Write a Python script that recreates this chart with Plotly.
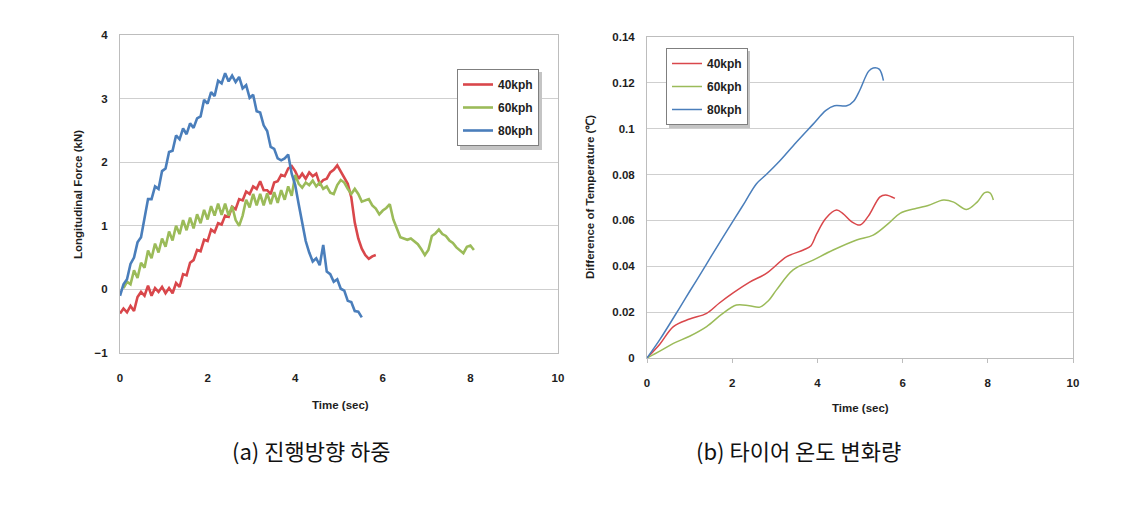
import plotly.graph_objects as go

# ---------------- (a) Longitudinal force ----------------
T_A = [0.00, 0.08, 0.16, 0.24, 0.32, 0.40, 0.48, 0.56, 0.64, 0.72,
       0.80, 0.88, 0.96, 1.04, 1.12, 1.20, 1.28, 1.36, 1.44, 1.52,
       1.60, 1.68, 1.76, 1.84, 1.92, 2.00, 2.08, 2.16, 2.24, 2.32,
       2.40, 2.48, 2.56, 2.64, 2.72, 2.80, 2.88, 2.96, 3.04, 3.12,
       3.20, 3.28, 3.36, 3.44, 3.52, 3.60, 3.68, 3.76, 3.84, 3.92,
       4.00, 4.08, 4.16, 4.24, 4.32, 4.40, 4.48, 4.56, 4.64, 4.72,
       4.80, 4.88, 4.96, 5.04, 5.12, 5.20, 5.28, 5.36, 5.44, 5.52,
       5.60, 5.68, 5.76, 5.84, 5.92, 6.00, 6.08, 6.16, 6.24, 6.32,
       6.40, 6.48, 6.56, 6.64, 6.72, 6.80, 6.88, 6.96, 7.04, 7.12,
       7.20, 7.28, 7.36, 7.44, 7.52, 7.60, 7.68, 7.76, 7.84, 7.92,
       8.00, 8.08]

force_40 = [-0.38, -0.30, -0.36, -0.26, -0.34, -0.12, -0.04, -0.10, 0.06, -0.10,
            0.02, -0.04, 0.04, -0.06, 0.02, -0.06, 0.10, 0.04, 0.24, 0.22,
            0.42, 0.46, 0.62, 0.60, 0.78, 0.76, 0.94, 0.90, 1.04, 1.02,
            1.16, 1.14, 1.30, 1.26, 1.42, 1.40, 1.54, 1.50, 1.62, 1.58,
            1.70, 1.56, 1.56, 1.50, 1.68, 1.70, 1.80, 1.78, 1.90, 1.94,
            1.86, 1.74, 1.82, 1.74, 1.84, 1.78, 1.82, 1.66, 1.72, 1.74,
            1.84, 1.88, 1.95, 1.86, 1.76, 1.66, 1.45, 1.05, 0.80, 0.64,
            0.54, 0.48, 0.52, 0.54]

force_60 = [0.02, 0.12, 0.08, 0.30, 0.18, 0.42, 0.34, 0.61, 0.49,
            0.72, 0.58, 0.80, 0.67, 0.91, 0.77, 1.00, 0.87, 1.09, 0.93,
            1.13, 0.96, 1.18, 1.04, 1.25, 1.10, 1.31, 1.16, 1.35, 1.17,
            1.35, 1.16, 1.31, 1.09, 1.00, 1.16, 1.41, 1.29, 1.50, 1.32,
            1.50, 1.32, 1.51, 1.34, 1.53, 1.36, 1.56, 1.41, 1.62, 1.47,
            1.80, 1.66, 1.60, 1.68, 1.64, 1.71, 1.62, 1.68, 1.58, 1.62,
            1.52, 1.50, 1.64, 1.72, 1.68, 1.58, 1.50, 1.58, 1.50, 1.38,
            1.40, 1.42, 1.32, 1.27, 1.18, 1.24, 1.28, 1.34, 1.10, 0.96,
            0.82, 0.80, 0.78, 0.80, 0.75, 0.71, 0.63, 0.54, 0.62, 0.84,
            0.88, 0.94, 0.87, 0.84, 0.77, 0.73, 0.66, 0.61, 0.57, 0.67,
            0.69, 0.62]

force_80 = [-0.10, 0.08, 0.16, 0.40, 0.50, 0.74, 0.82, 1.14, 1.42, 1.42,
            1.62, 1.58, 1.86, 1.90, 2.16, 2.18, 2.42, 2.36, 2.53, 2.44,
            2.61, 2.54, 2.69, 2.72, 2.98, 2.92, 3.10, 3.04, 3.28, 3.24,
            3.40, 3.27, 3.36, 3.26, 3.34, 3.16, 3.21, 3.01, 3.06, 2.80,
            2.78, 2.58, 2.49, 2.24, 2.21, 2.06, 2.03, 2.06, 2.12, 1.82,
            1.64, 1.34, 1.06, 0.76, 0.58, 0.44, 0.49, 0.38, 0.70, 0.28,
            0.24, 0.12, 0.16, 0.01, -0.02, -0.18, -0.20, -0.34, -0.35, -0.44]

# ---------------- (b) Temperature difference ----------------
t_40 = [0, 0.3, 0.62, 1.0, 1.40, 1.7, 2.03, 2.4, 2.81, 3.28, 3.67, 3.85,
        3.98, 4.2, 4.45, 4.6, 4.8, 5.0, 5.2, 5.47, 5.6, 5.82]
temp_40 = [0, 0.006, 0.0137, 0.017, 0.0195, 0.024, 0.0285, 0.033, 0.037,
           0.0442, 0.0471, 0.049, 0.054, 0.061, 0.0645, 0.063, 0.0595,
           0.058, 0.062, 0.0703, 0.0711, 0.0696]

t_60 = [0, 0.3, 0.62, 1.0, 1.40, 1.75, 2.1, 2.4, 2.65, 2.85, 3.04, 3.43,
        3.90, 4.37, 4.92, 5.31, 5.67, 5.94, 6.33, 6.6, 6.96, 7.2, 7.5,
        7.75, 7.93, 8.05, 8.13]
temp_60 = [0, 0.003, 0.0064, 0.0095, 0.0137, 0.019, 0.0231, 0.0228, 0.0222,
           0.025, 0.0297, 0.0384, 0.0427, 0.0471, 0.0515, 0.0536, 0.0587,
           0.0631, 0.0653, 0.0665, 0.0689, 0.068, 0.0648, 0.068, 0.0721,
           0.072, 0.0689]

t_80 = [0, 0.3, 0.77, 1.0, 1.3, 1.56, 2.03, 2.3, 2.57, 2.8, 3.12, 3.5, 3.90,
        4.2, 4.4, 4.69, 4.85, 5.0, 5.2, 5.31, 5.45, 5.55]
temp_80 = [0, 0.008, 0.022, 0.029, 0.038, 0.046, 0.060, 0.068, 0.076, 0.080,
           0.086, 0.094, 0.102, 0.108, 0.110, 0.110, 0.112, 0.117, 0.125,
           0.1265, 0.126, 0.121]

series_names = ["40kph", "60kph", "80kph"]
colors = ["#D9474B", "#9BBB59", "#4A7EBB"]
x_ticks = [0, 2, 4, 6, 8, 10]
force_ticks = [-1, 0, 1, 2, 3, 4]
temp_ticks = [0, 0.02, 0.04, 0.06, 0.08, 0.1, 0.12, 0.14]
temp_tick_text = ["0", "0.02", "0.04", "0.06", "0.08", "0.1", "0.12", "0.14"]
captions = ["(a) 진행방향 하중", "(b) 타이어 온도 변화량"]
x_title = "Time (sec)"
force_title = "Longitudinal Force (kN)"
temp_title = "Difference of Temperature (℃)"

W, H = 1145, 505
fig = go.Figure()

force_data = [(T_A[:len(force_40)], force_40),
              (T_A[1:1 + len(force_60)], force_60),
              (T_A[:len(force_80)], force_80)]
for (xs, ys), name, c in zip(force_data, series_names, colors):
    fig.add_trace(go.Scatter(x=xs, y=ys, mode="lines", name=name,
                             line=dict(color=c, width=2.6),
                             xaxis="x", yaxis="y", legend="legend",
                             legendgroup="a" + name))

temp_data = [(t_40, temp_40), (t_60, temp_60), (t_80, temp_80)]
for (xs, ys), name, c in zip(temp_data, series_names, colors):
    fig.add_trace(go.Scatter(x=xs, y=ys, mode="lines", name=name,
                             line=dict(color=c, width=1.5, shape="spline"),
                             xaxis="x2", yaxis="y2", legend="legend2",
                             legendgroup="b" + name))

def px_x(p):
    return p / W

def px_y(p):
    return 1 - p / H

tick_font = dict(family="Liberation Sans", size=11.5, color="#1E1E1E", weight="bold")
title_font = dict(family="Liberation Sans", size=11.5, color="#1E1E1E", weight="bold")
legend_font = dict(family="Liberation Sans", size=12, color="#1E1E1E", weight="bold")
grid = "#CFCFCF"
border = "#BDBDBD"

axis_common = dict(showgrid=False, zeroline=False, showline=True, mirror=True,
                   linecolor=border, linewidth=1, tickfont=tick_font, ticks="",
                   automargin=False)

fig.update_layout(
    template="none",
    width=W, height=H, margin=dict(l=0, r=0, t=0, b=0),
    paper_bgcolor="white", plot_bgcolor="white",
    xaxis=dict(domain=[px_x(120), px_x(558)], range=[0, 10], tickvals=x_ticks,
               anchor="y", ticklabelstandoff=14, **axis_common),
    yaxis=dict(domain=[px_y(353), px_y(35)], range=[-1, 4], tickvals=force_ticks,
               anchor="x", ticklabelstandoff=9,
               **{**axis_common, "showgrid": True, "gridcolor": grid}),
    xaxis3=dict(overlaying="x", anchor="free", position=px_y(289.5), range=[0, 10],
                tickvals=x_ticks, showticklabels=False, ticks="outside", ticklen=4,
                tickcolor="#A6A6A6", showline=True, linecolor="#A6A6A6", showgrid=False,
                zeroline=False, automargin=False),
    xaxis2=dict(domain=[px_x(647), px_x(1073)], range=[0, 10], tickvals=x_ticks,
                anchor="y2", ticklabelstandoff=10,
                **{**axis_common, "ticks": "outside", "ticklen": 4, "tickcolor": border}),
    yaxis2=dict(domain=[px_y(358), px_y(37)], range=[0, 0.14], tickvals=temp_ticks,
                ticktext=temp_tick_text, anchor="x2", ticklabelstandoff=9,
                **{**axis_common, "showgrid": True, "gridcolor": grid}),
    legend=dict(x=px_x(457), y=px_y(69), xanchor="left", yanchor="top",
                bgcolor="white", bordercolor="#7F7F7F", borderwidth=1,
                font=legend_font, tracegroupgap=4, itemwidth=30),
    legend2=dict(x=px_x(666), y=px_y(48), xanchor="left", yanchor="top",
                 bgcolor="white", bordercolor="#7F7F7F", borderwidth=1,
                 font=legend_font, tracegroupgap=4, itemwidth=30),
    showlegend=True,
)

# legend drop shadows (drawn beneath the legend boxes)
for (x0, y0, x1, y1) in [(460, 72, 542, 150), (669, 51, 750, 128)]:
    fig.add_shape(type="rect", xref="paper", yref="paper",
                  x0=px_x(x0), x1=px_x(x1), y0=px_y(y1), y1=px_y(y0),
                  fillcolor="#C4C4C4", line=dict(width=0), layer="above")

# axis titles
for text, cx, cy, ang in [(x_title, 340, 405, 0), (x_title, 860, 408, 0),
                          (force_title, 78, 195, -90), (temp_title, 590, 197, -90)]:
    fig.add_annotation(text=text, x=px_x(cx), y=px_y(cy), xref="paper", yref="paper",
                       showarrow=False, xanchor="center", yanchor="middle",
                       textangle=ang, font=title_font)

for text, cx in zip(captions, [311, 798]):
    fig.add_annotation(text=text, x=px_x(cx), y=px_y(450), xref="paper", yref="paper",
                       showarrow=False, xanchor="center", yanchor="middle",
                       font=dict(family="Noto Sans CJK KR", size=22, color="#111"))

fig.write_html("out.html", config={"displayModeBar": False},
               post_script="document.body.style.margin='0px';")
